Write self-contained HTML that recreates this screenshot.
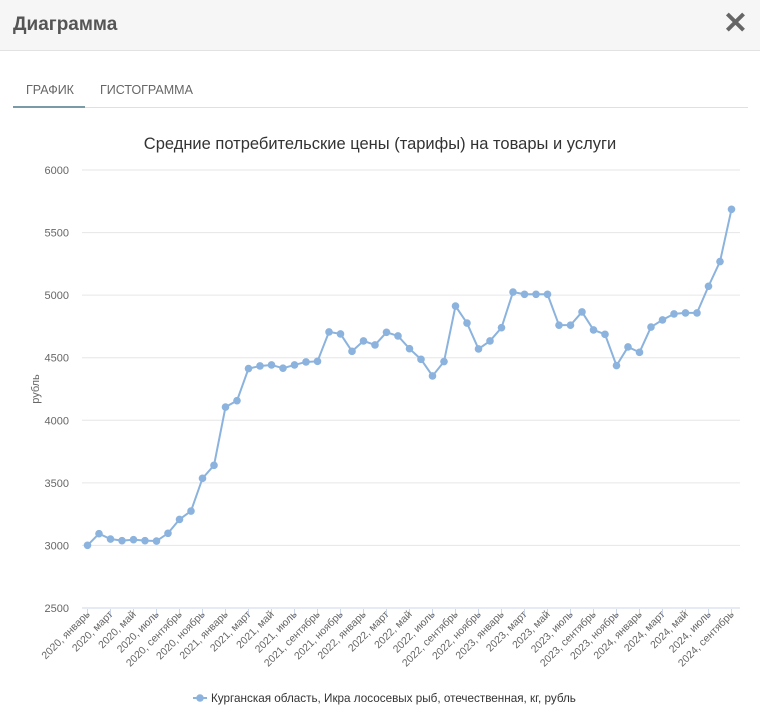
<!DOCTYPE html>
<html><head><meta charset="utf-8"><style>
body{margin:0;width:760px;height:721px;background:#fff;font-family:"Liberation Sans",sans-serif;overflow:hidden;position:relative}
#hdr{position:absolute;left:0;top:0;width:760px;height:50px;background:#f6f6f6;border-bottom:1px solid #e2e2e2}
#ttl{position:absolute;left:13px;top:14px;font-size:19px;color:#555;font-weight:bold}
#cls{position:absolute;right:12px;top:6px;font-size:30px;color:#666;font-weight:900}
.tab{position:absolute;top:83px;font-size:12.5px;color:#666}
#tabline{position:absolute;left:13px;top:107px;width:735px;height:1px;background:#e0e0e0}
#tabact{position:absolute;left:13px;top:106px;width:72px;height:2px;background:#7a9aa8}
svg{position:absolute;left:0;top:0}
</style></head><body>
<div id="hdr"><div id="ttl">Диаграмма</div><div id="cls">✕</div></div>
<div class="tab" style="left:26px">ГРАФИК</div>
<div class="tab" style="left:100px">ГИСТОГРАММА</div>
<div id="tabline"></div>
<div id="tabact"></div>
<svg id="chart" width="760" height="721"></svg>
<script>
const monthNames=["январь","февраль","март","апрель","май","июнь","июль","август","сентябрь","октябрь","ноябрь","декабрь"];
const values=[3001,3094,3051,3038,3046,3038,3035,3097,3208,3275,3536,3640,4106,4157,4413,4434,4442,4416,4442,4466,4471,4706,4690,4551,4634,4602,4703,4674,4572,4487,4354,4469,4913,4777,4570,4634,4740,5025,5007,5007,5007,4760,4760,4866,4722,4687,4437,4586,4543,4745,4802,4850,4858,4858,5071,5268,5686];
const yTicks=[2500,3000,3500,4000,4500,5000,5500,6000];
const categories=values.map((v,i)=>(2020+Math.floor(i/12))+", "+monthNames[i%12]);
const NS="http://www.w3.org/2000/svg";
const svg=document.getElementById('chart');
const x0=87.5,x1=731.5,yTop=170,yBot=608,yMin=2500,yMax=6000;
const xs=i=>x0+(x1-x0)*i/(values.length-1);
const ys=v=>yBot-(v-yMin)/(yMax-yMin)*(yBot-yTop);
function mk(t,a,txt){const e=document.createElementNS(NS,t);for(const k in a)e.setAttribute(k,a[k]);if(txt!==undefined)e.textContent=txt;svg.appendChild(e);return e;}
let t=mk('text',{x:380,y:149,'text-anchor':'middle','font-size':16.5,fill:'#333','font-family':'Liberation Sans, sans-serif'},'Средние потребительские цены (тарифы) на товары и услуги');


yTicks.forEach(v=>{
 const y=ys(v);
 const g=mk('line',{x1:82,x2:740,y1:y,y2:y,stroke:v===yMin?'#ccd6eb':'#e6e6e6','stroke-width':1});
 
 
 const l=mk('text',{x:69,y:y+4,'text-anchor':'end','font-size':11,fill:'#666'},String(v));
 
 
});
t=mk('text',{x:39,y:389,'text-anchor':'middle','font-size':11,fill:'#666',transform:'rotate(-90 39 389)'},'рубль');


categories.forEach((c,i)=>{
 if(i%2)return;
 const x=xs(i);
 const tk=mk('line',{x1:x,x2:x,y1:609,y2:618,stroke:'#ccd6eb'});
 
 
 const l=mk('text',{x:x+3,y:615,'text-anchor':'end','font-size':10.5,fill:'#666',transform:`rotate(-45 ${x+3} 615)`},c);
 
 
});
const p=mk('polyline',{points:values.map((v,i)=>xs(i)+','+ys(v)).join(' '),fill:'none',stroke:'#8bb3de','stroke-width':2});


values.forEach((v,i)=>{
 const c=mk('circle',{cx:xs(i),cy:ys(v),r:3.8,fill:'#8bb3de'});
 
 
});
const lg=mk('line',{x1:193,x2:207,y1:698,y2:698,stroke:'#8bb3de','stroke-width':2});


const lc=mk('circle',{cx:200,cy:698,r:3.8,fill:'#8bb3de'});


t=mk('text',{x:211,y:702,'font-size':11.7,fill:'#333'},'Курганская область, Икра лососевых рыб, отечественная, кг, рубль');


</script>
</body></html>
